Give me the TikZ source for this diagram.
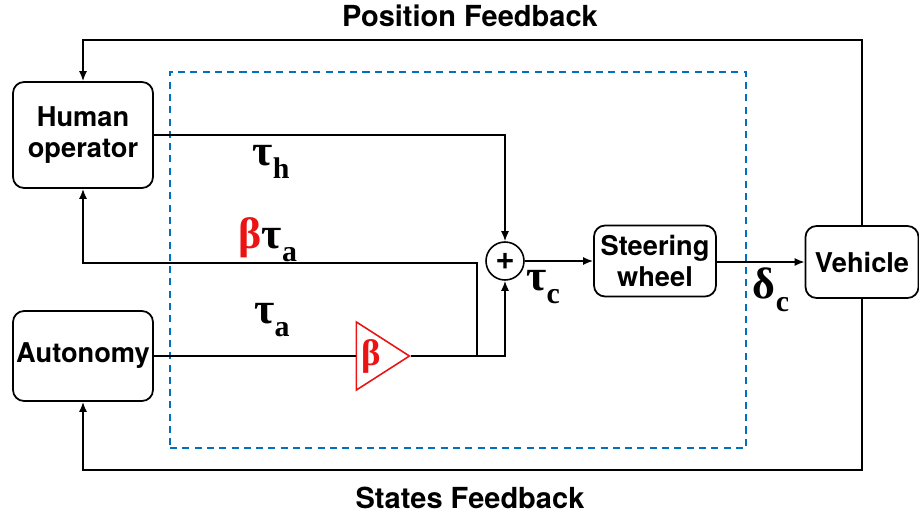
\documentclass[tikz,border=0pt]{standalone}
\usepackage{fontspec}
\setmainfont{TeX Gyre Heros}
\newfontfamily\grk{Liberation Serif}
\usetikzlibrary{arrows.meta,positioning,shapes.geometric}
\definecolor{CtrlBlue}{RGB}{0,114,189}
\definecolor{GainRed}{RGB}{235,20,20}
\newcommand{\gsym}[2]{{\grk\bfseries\fontsize{25}{25}\selectfont #1\raisebox{-0.3em}{\fontsize{17}{17}\selectfont #2}}}

\begin{document}
\begin{tikzpicture}[x=0.02cm, y=-0.02cm, every node/.style={font=\bfseries\fontsize{15.5}{18}\selectfont},
  blk/.style={draw,line width=1pt,rounded corners=2.2mm,align=center,inner sep=0pt},
  lnk/.style={line width=0.9pt,-{Latex[length=2mm,width=1.6mm]}},
  gainbox/.style={draw=GainRed,line width=0.9pt,isosceles triangle,isosceles triangle stretches,minimum width=1.36cm,minimum height=1.06cm,inner sep=0pt,text=GainRed}]
\useasboundingbox (0,0) rectangle (919,518);
% blocks
\node[blk,minimum width=2.8cm,minimum height=2.12cm] (hum) at (83,135) {Human\\operator};
\node[blk,minimum width=2.8cm,minimum height=1.8cm] (aut) at (83,356) {Autonomy};
\node[blk,minimum width=2.44cm,minimum height=1.42cm] (steer) at (655,261) {Steering\\wheel};
\node[blk,minimum width=2.26cm,minimum height=1.44cm] (veh) at (862,262) {Vehicle};
\node[draw,line width=0.9pt,circle,minimum size=0.76cm,inner sep=0pt,font=\bfseries\fontsize{19}{19}\selectfont] (sum) at (505,261) {+};
\node[gainbox] (gain) at (375,356) {};
\node[text=GainRed] (gtxt) at (371,356) {\grk\fontsize{21}{21}\selectfont β};
% shared control area
\node[draw=CtrlBlue,line width=0.9pt,dash pattern=on 4pt off 3pt,minimum width=11.52cm,minimum height=7.52cm] (ctrl) at (458,260) {};
% signals
\draw[lnk] (hum.east) -| (sum.north);
\draw[line width=0.9pt] (aut.east) -- (gain.west);
\draw[lnk] (gain.east) -| (sum.south);
\coordinate (tap) at (477,356);
\coordinate (bt) at (477,263);
\draw[lnk] (tap) -- (bt) -| (hum.south);
\draw[lnk] (sum.east) -- (steer.west);
\draw[lnk] (steer.east |- veh.west) -- (veh.west);
% feedback loops
\coordinate (top) at (862,40);
\coordinate (bot) at (862,470);
\draw[lnk] (veh.north) -- (top) -| (hum.north);
\draw[lnk] (veh.south) -- (bot) -| (aut.south);
% labels
\node (lpos) at (470,16) {\fontsize{16.5}{18}\selectfont Position Feedback};
\node (lsta) at (470,498) {\fontsize{16.5}{18}\selectfont States Feedback};
\node (lh) at (271,162) {\gsym{τ}{h}};
\node (lbta) at (268,240) {\gsym{\textcolor{GainRed}{β}τ}{a}};
\node (lta) at (272,320) {\gsym{τ}{a}};
\node (ltc) at (543,287) {\gsym{τ}{c}};
\node (ldc) at (771,290) {\gsym{δ}{c}};
\end{tikzpicture}
\end{document}
